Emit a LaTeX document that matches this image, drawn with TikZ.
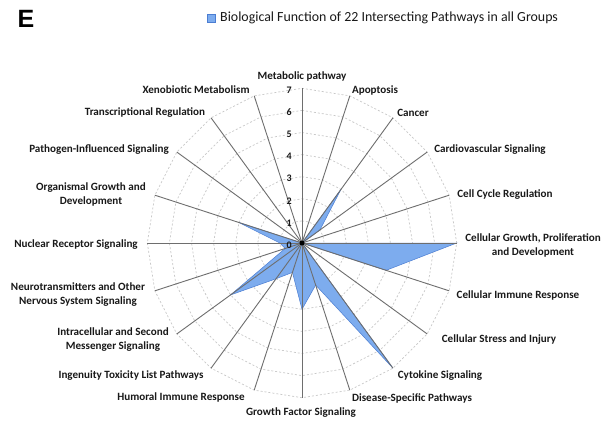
\documentclass[tikz,border=0pt]{standalone}
\usepackage{fontspec}
\setmainfont{Carlito}
\newfontfamily\headfont{Liberation Sans}
\definecolor{radarblue}{RGB}{125,172,238}
\definecolor{radaredge}{RGB}{75,125,210}
\definecolor{axisgray}{RGB}{110,110,110}
\definecolor{gridgray}{RGB}{200,200,200}
\definecolor{labelblack}{RGB}{25,25,25}
\tikzset{
  axisline/.style={draw=axisgray, line width=0.9pt},
  gridring/.style={draw=gridgray, dash pattern=on 2pt off 2pt, line width=0.7pt},
  catlabel/.style={font=\bfseries\fontsize{11.1}{14}\selectfont, text=labelblack, align=center, inner sep=0pt},
  ticklabel/.style={font=\bfseries\fontsize{10}{10}\selectfont, text=labelblack, anchor=east, inner sep=0pt},
}
\begin{document}
\begin{tikzpicture}
[x=1pt, y=-1pt]
\useasboundingbox (0,0) rectangle (615,423);
\fill[white] (0,0) rectangle (615,423);
% panel letter and legend
\node[font=\headfont\bfseries\fontsize{25}{25}\selectfont, inner sep=0pt] (panel) at (26,19) {E};
\node[fill=radarblue, draw=radaredge, line width=0.3pt, minimum size=8pt, inner sep=0pt] (legkey) at (211,18) {};
\node[font=\fontsize{13.9}{14}\selectfont, text=labelblack, anchor=west, inner sep=0pt] (legtext) at (220,18) {Biological Function of 22 Intersecting Pathways in all Groups};
\begin{scope}[shift={(302,243)}]
\coordinate (c) at (0,0);
% rings
\foreach \k in {1,...,7}
  \draw[gridring] (-90:{\k*22.1}) \foreach \i in {1,...,19} { -- ({18*\i-90}:{\k*22.1}) } -- cycle;
% data
\filldraw[fill=radarblue, draw=radaredge, line width=0.5pt]
  (-90:0) -- (-72:0) -- (-54:{3*22.1}) -- (-36:{1*22.1}) -- (-18:0)
  -- (0:{7*22.1}) -- (18:{4*22.1}) -- (36:0) -- (54:{7*22.1}) -- (72:{2*22.1})
  -- (90:{3*22.1}) -- (108:{1.4*22.1}) -- (126:{2*22.1}) -- (144:{4*22.1}) -- (162:{0.8*22.1})
  -- (180:{1*22.1}) -- (198:{3*22.1}) -- (216:0) -- (234:0) -- (252:0) -- cycle;
% axes
\foreach \i in {0,...,19}
  \draw[axisline] (c) -- ({18*\i-90}:154.7) coordinate (a\i);
\fill (c) circle (2.5pt);
\foreach \k in {0,...,7}
  \node[ticklabel] (t\k) at (-10,{-\k*22.1+2}) {\k};
\end{scope}
% category labels
\node[catlabel] (l0) at (302,76) {Metabolic pathway};
\node[catlabel] (l1) at (375,90) {Apoptosis};
\node[catlabel] (l2) at (413,113) {Cancer};
\node[catlabel] (l3) at (490,150) {Cardiovascular Signaling};
\node[catlabel] (l4) at (505,195) {Cell Cycle Regulation};
\node[catlabel] (l5) at (533,245) {Cellular Growth, Proliferation\\and Development};
\node[catlabel] (l6) at (518,295) {Cellular Immune Response};
\node[catlabel] (l7) at (499,340) {Cellular Stress and Injury};
\node[catlabel] (l8) at (440,376) {Cytokine Signaling};
\node[catlabel] (l9) at (412,398) {Disease-Specific Pathways};
\node[catlabel] (l10) at (301,413) {Growth Factor Signaling};
\node[catlabel] (l11) at (181,397) {Humoral Immune Response};
\node[catlabel] (l12) at (131,376) {Ingenuity Toxicity List Pathways};
\node[catlabel] (l13) at (113,340) {Intracellular and Second\\Messenger Signaling};
\node[catlabel] (l14) at (78,295) {Neurotransmitters and Other\\Nervous System Signaling};
\node[catlabel] (l15) at (76,245) {Nuclear Receptor Signaling};
\node[catlabel] (l16) at (91,194) {Organismal Growth and\\Development};
\node[catlabel] (l17) at (99,150) {Pathogen-Influenced Signaling};
\node[catlabel] (l18) at (145,113) {Transcriptional Regulation};
\node[catlabel] (l19) at (196,90) {Xenobiotic Metabolism};
\end{tikzpicture}
\end{document}
